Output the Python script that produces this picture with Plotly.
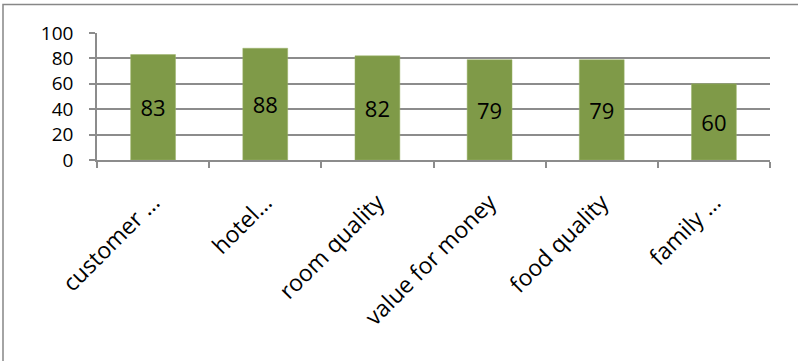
import plotly.graph_objects as go

categories = ["customer …", "hotel…", "room quality", "value for money", "food quality", "family …"]
scores = [83, 88, 82, 79, 79, 60]
y_ticks = [0, 20, 40, 60, 80, 100]

BAR = "#7F9A48"
GRID = "#8C8C8C"
FONT = "Open Sans"

W, H = 798, 361
ML, MR, MT, MB = 97, 28, 33, 201
pw, ph = W - ML - MR, H - MT - MB

fig = go.Figure(
    go.Bar(
        x=categories,
        y=scores,
        width=0.4,
        marker=dict(color=BAR, line=dict(color="#9DB56A", width=0.5)),
        text=[str(v) for v in scores],
        textposition="inside",
        insidetextanchor="middle",
        textangle=0,
        textfont=dict(family=FONT, size=22, color="black"),
        hoverinfo="x+y",
    )
)

# outer chart frame (in paper units relative to the plot area)
fig.add_shape(
    type="rect", xref="paper", yref="paper",
    x0=(3 - ML) / pw, x1=(W + 6 - ML) / pw,
    y0=(MT + ph - (H + 6)) / ph, y1=(MT + ph - 4.5) / ph,
    line=dict(color="#878787", width=1.5), fillcolor="rgba(0,0,0,0)",
    layer="below",
)

fig.update_layout(
    width=W, height=H,
    margin=dict(l=ML, r=MR, t=MT, b=MB, pad=0),
    paper_bgcolor="white", plot_bgcolor="white",
    showlegend=False,
    font=dict(family=FONT, color="black"),
    bargap=0.6,
)

fig.update_xaxes(
    showgrid=False,
    showline=True, linecolor=GRID, linewidth=1.5,
    ticks="outside", tickson="boundaries", ticklen=6, tickcolor=GRID, tickwidth=1.5,
    tickangle=-45,
    tickfont=dict(family=FONT, size=23, color="black"),
    ticklabelshift=0,
    ticklabelstandoff=18,
)

fig.update_yaxes(
    range=[0, 100],
    tickvals=y_ticks,
    showgrid=True, gridcolor=GRID, gridwidth=1.5,
    showline=True, linecolor=GRID, linewidth=1.5,
    ticks="outside", ticklen=6, tickcolor=GRID, tickwidth=1.5,
    ticklabelstandoff=12,
    tickfont=dict(family=FONT, size=19, color="black"),
    zeroline=False,
)

fig.write_html("out.html")
